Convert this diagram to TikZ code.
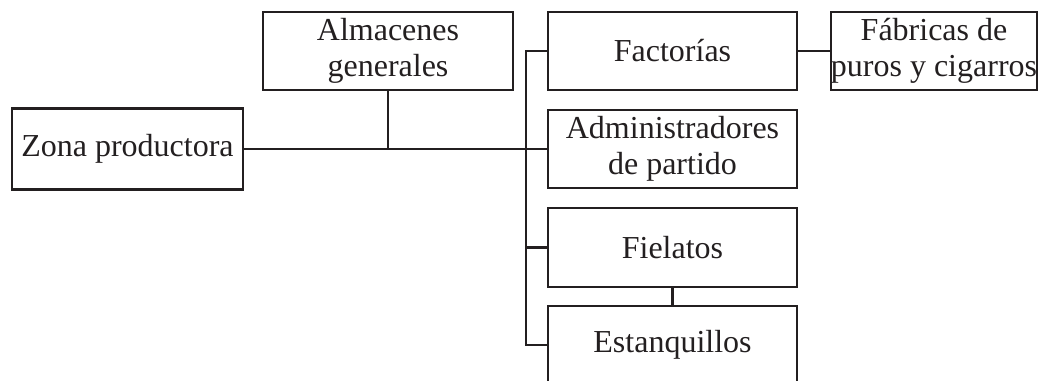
\documentclass[tikz,border=0pt]{standalone}
\usepackage{fontspec}
\setmainfont{Liberation Serif}
\definecolor{ink}{HTML}{231F20}
\begin{document}
\begin{tikzpicture}[x=1pt,y=-1pt,
  box/.style={draw=ink,line width=2.5pt,text=ink,inner sep=0pt,align=center,
    font=\fontsize{32}{36}\selectfont,minimum height=78pt},
  conn/.style={draw=ink,line width=2.5pt}]
\useasboundingbox (0,0) rectangle (1040,380);
\node[box,minimum width=231pt,minimum height=81pt] (zona) at (127.5,149) {Zona productora};
\node[box,minimum width=250pt] (alm) at (388,51) {Almacenes\\generales};
\node[box,minimum width=249pt] (fact) at (672.5,51) {Factorías};
\node[box,minimum width=206pt] (fab) at (934,51) {Fábricas de\\puros y cigarros};
\node[box,minimum width=249pt] (admin) at (672.5,149) {Administradores\\de partido};
\node[box,minimum width=249pt,minimum height=79pt] (fiel) at (672.5,247.5) {Fielatos};
\node[box,minimum width=249pt] (estan) at (672.5,345) {Estanquillos};
\coordinate (tx) at (526,0);
\draw[conn] (zona.east) -- (admin.west);
\draw[conn] (alm.south) -- (alm.south |- admin.west);
\draw[conn] (fact.west) -- (fact.west -| tx) -- (estan.west -| tx) -- (estan.west);
\draw[conn] (fiel.west -| tx) -- (fiel.west);
\draw[conn] (fact.east) -- (fab.west);
\draw[conn] (fiel.south) -- (estan.north);
\end{tikzpicture}
\end{document}
